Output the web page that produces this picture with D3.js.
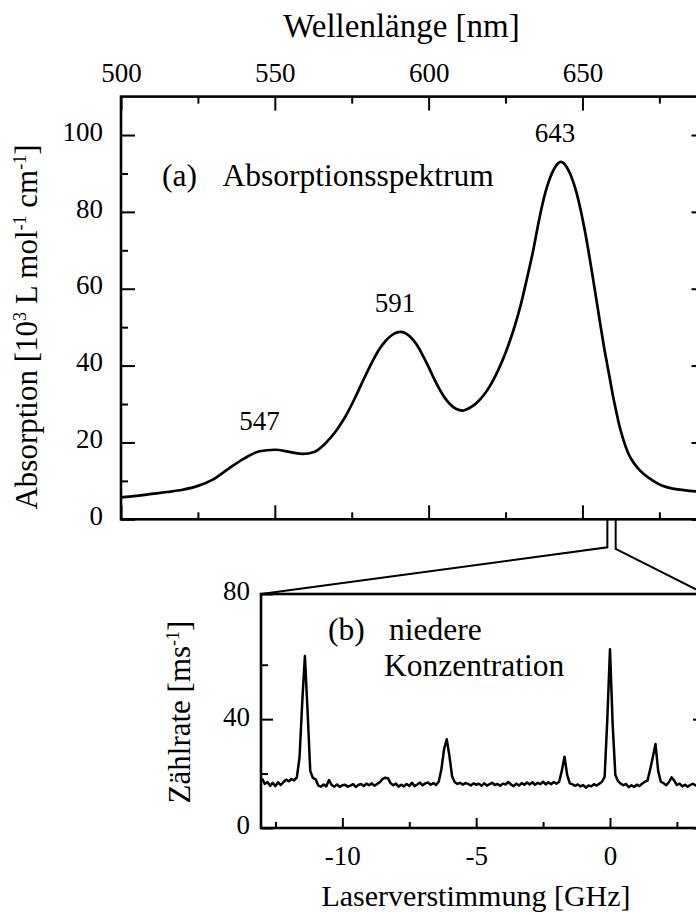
<!DOCTYPE html>
<html>
<head>
<meta charset="utf-8">
<script src="https://cdn.jsdelivr.net/npm/d3@7"></script>
<style>
  html, body { margin: 0; padding: 0; background: #fff; overflow: hidden; }
  svg { display: block; }
  text { font-family: "Liberation Serif", "Times New Roman", serif; fill: #000; }
</style>
</head>
<body>
<svg id="fig" width="696" height="913"></svg>
<script>
// ---------- (a) absorption spectrum ----------
const wavelength = [500, 505, 510, 515, 520, 525, 530, 535, 540, 545, 550, 555, 559, 563, 566, 568, 570, 572, 574, 576,
  578, 580, 582, 584, 586, 588, 590, 591, 592, 594, 596, 598, 600, 602, 604, 606, 608, 610, 611, 612,
  614, 616, 618, 620, 622, 624, 626, 628, 630, 632, 634, 636, 637, 638, 639, 640, 641, 642, 643, 644,
  645, 646, 647, 648, 649, 650, 651, 652, 653, 654, 655, 656, 657, 658, 659, 660, 661, 662, 663, 664,
  665, 666, 668, 670, 673, 676, 680, 685, 690];
const absorption = [5.7, 6.1, 6.6, 7.1, 7.7, 8.7, 10.4, 13.2, 15.8, 17.7, 18.1, 17.5, 17.0, 17.6, 19.4, 21.1, 23.1, 25.5, 28.3, 31.5,
  34.9, 38.3, 41.5, 44.3, 46.4, 47.9, 48.7, 48.8, 48.6, 47.5, 45.6, 42.8, 39.6, 36.2, 33.2, 30.8, 29.2, 28.4, 28.3, 28.5,
  29.3, 30.6, 32.4, 34.8, 37.8, 41.3, 45.5, 50.3, 56.0, 62.8, 70.0, 78.3, 82.0, 85.2, 87.8, 89.9, 91.5, 92.6, 93.0, 92.6,
  91.5, 89.9, 87.8, 85.2, 82.0, 78.3, 74.2, 69.6, 64.8, 59.8, 54.8, 49.8, 44.9, 40.5, 36.2, 31.8, 28.0, 24.4, 21.5, 19.0,
  17.0, 15.5, 13.3, 11.7, 10.0, 8.7, 7.9, 7.4, 7.1];
const peakWavelengths = [547, 591, 643];
const peakHeights = [18.1, 48.8, 93.0];
const wlMajorTicks = [500, 550, 600, 650, 700];
const wlMinorTicks = [525, 575, 625, 675];
const absMajorTicks = [0, 20, 40, 60, 80, 100];
const absMinorTicks = [10, 30, 50, 70, 90];
const wlDomain = [500, 690];
const absDomain = [0, 110];
// laser scan window marked on the wavelength axis [nm]
const scanWindow = [658.1, 660.8];

// ---------- (b) count rate vs. laser detuning ----------
const detuning = d3.range(166).map(i => +(-13 + i * 0.1).toFixed(1));
const countRate = [
  18.2, 16.2, 16.9, 15.5, 16.6, 15.4, 16.8, 15.8, 16.9, 17.8,   // -13.0 .. -12.1
  17.2, 18.0, 17.5, 18.6, 26.0, 46.0, 63.2, 43.0, 21.0, 18.4,   // -12.0 .. -11.1
  17.9, 15.6, 15.2, 16.0, 15.3, 17.6, 15.8, 15.2, 16.0, 15.1,   // -11.0 .. -10.1
  15.7, 15.9, 15.2, 15.6, 16.1, 15.1, 15.8, 16.2, 15.4, 16.3,   // -10.0 .. -9.1
  15.7, 16.4, 15.5, 16.2, 16.8, 18.0, 18.5, 18.3, 16.5, 15.7,   // -9.0 .. -8.1
  16.3, 15.2, 15.9, 15.3, 16.2, 15.5, 16.6, 15.4, 16.0, 16.7,   // -8.0 .. -7.1
  15.7, 16.4, 16.7, 15.9, 16.5, 15.8, 17.0, 21.5, 29.0, 32.6,   // -7.0 .. -6.1
  26.5, 19.0, 16.8, 16.2, 16.6, 15.9, 16.5, 16.2, 15.6, 16.4,   // -6.0 .. -5.1
  15.9, 16.3, 15.5, 16.4, 15.6, 16.1, 16.6, 15.8, 16.2, 15.5,   // -5.0 .. -4.1
  16.3, 16.0, 16.9, 16.0, 15.4, 16.3, 15.6, 16.5, 15.9, 16.7,   // -4.0 .. -3.1
  16.0, 16.8, 15.9, 16.6, 16.1, 17.0, 16.0, 16.8, 16.1, 16.9,   // -3.0 .. -2.1
  16.3, 17.0, 21.0, 26.2, 19.5, 16.4, 16.0, 15.5, 16.0, 15.3,   // -2.0 .. -1.1
  15.8, 14.8, 15.6, 15.3, 16.1, 15.6, 16.3, 17.0, 18.8, 40.0,   // -1.0 .. -0.1
  65.7, 38.0, 19.5, 17.2, 16.3, 15.7, 16.2, 15.0, 15.7, 15.1,   //  0.0 .. 0.9
  15.9, 15.4, 16.3, 17.0, 17.4, 21.5, 26.0, 30.9, 21.0, 17.0,   //  1.0 .. 1.9
  16.5, 15.7, 16.8, 18.6, 17.4, 15.8, 16.3, 15.3, 15.9, 15.2,   //  2.0 .. 2.9
  15.8, 16.3, 15.6, 16.1, 15.7, 16.2                            //  3.0 .. 3.5
];
const detMajorTicks = [-10, -5, 0];
const detMinorTicks = [-12.5, -7.5, -2.5, 2.5];
const rateTickValues = [0, 40, 86];
const rateTickLabels = ["0", "40", "80"];
const rateMinorTicks = [20, 60];
const detDomain = [-13.04, 3.55];
const rateDomain = [0, 86];

// ---------- drawing ----------
const svg = d3.select("#fig");
const SERIF = '"Liberation Serif", "Times New Roman", serif';
const TICK_FONT = 27, NOTE_FONT = 31.5;

// panel (a) frame
const A = { left: 121, right: 705.5, top: 96.6, bottom: 519.3 };
const xA = d3.scaleLinear().domain(wlDomain).range([A.left, A.right]);
const yA = d3.scaleLinear().domain(absDomain).range([A.bottom, A.top]);

// panel (b) frame
const B = { left: 261, right: 705, top: 594, bottom: 828 };
const xB = d3.scaleLinear().domain(detDomain).range([B.left, B.right]);
const yB = d3.scaleLinear().domain(rateDomain).range([B.bottom, B.top]);

function styleAxis(g) {
  g.attr("font-family", SERIF).attr("font-size", TICK_FONT);
  g.select(".domain").remove();
  g.selectAll(".tick line").attr("stroke", "#000").attr("stroke-width", 2);
  g.selectAll(".tick text").attr("fill", "#000");
}
const inDom = (s) => (v) => v >= s.domain()[0] && v <= s.domain()[1];
const plain = (d) => String(d);

// ---- panel (a) axes ----
const gA = svg.append("g");
gA.append("g").attr("transform", `translate(0,${A.top})`)
  .call(d3.axisTop(xA).tickValues(wlMajorTicks.filter(inDom(xA))).tickSizeInner(-14).tickSizeOuter(0).tickPadding(15).tickFormat(plain))
  .call(styleAxis);
gA.append("g").attr("transform", `translate(0,${A.top})`)
  .call(d3.axisTop(xA).tickValues(wlMinorTicks).tickSizeInner(-7).tickSizeOuter(0).tickFormat(""))
  .call(styleAxis);
gA.append("g").attr("transform", `translate(0,${A.bottom})`)
  .call(d3.axisBottom(xA).tickValues(wlMajorTicks.filter(inDom(xA))).tickSizeInner(-14).tickSizeOuter(0).tickFormat(""))
  .call(styleAxis);
gA.append("g").attr("transform", `translate(0,${A.bottom})`)
  .call(d3.axisBottom(xA).tickValues(wlMinorTicks).tickSizeInner(-7).tickSizeOuter(0).tickFormat(""))
  .call(styleAxis);
gA.append("g").attr("transform", `translate(${A.left},0)`)
  .call(d3.axisLeft(yA).tickValues(absMajorTicks).tickSizeInner(-14).tickSizeOuter(0).tickPadding(18).tickFormat(plain))
  .call(styleAxis)
  .call(g => g.selectAll(".tick text").attr("dy", "0.19em"));
gA.append("g").attr("transform", `translate(${A.left},0)`)
  .call(d3.axisLeft(yA).tickValues(absMinorTicks).tickSizeInner(-7).tickSizeOuter(0).tickFormat(""))
  .call(styleAxis);
gA.append("g").attr("transform", `translate(${A.right},0)`)
  .call(d3.axisRight(yA).tickValues(absMajorTicks).tickSizeInner(-14).tickSizeOuter(0).tickFormat(""))
  .call(styleAxis);
gA.append("g").attr("transform", `translate(${A.right},0)`)
  .call(d3.axisRight(yA).tickValues(absMinorTicks).tickSizeInner(-7).tickSizeOuter(0).tickFormat(""))
  .call(styleAxis);
gA.append("rect")
  .attr("x", A.left).attr("y", A.top).attr("width", A.right - A.left).attr("height", A.bottom - A.top)
  .attr("fill", "none").attr("stroke", "#000").attr("stroke-width", 2.6);

// absorption curve
const absData = wavelength.map((w, i) => [w, absorption[i]]);
gA.append("path")
  .datum(absData)
  .attr("fill", "none").attr("stroke", "#000").attr("stroke-width", 2.7).attr("stroke-linejoin", "round")
  .attr("d", d3.line().x(d => xA(d[0])).y(d => yA(d[1])).curve(d3.curveMonotoneX));

// peak labels
gA.selectAll("text.peak")
  .data(peakWavelengths)
  .join("text")
  .attr("class", "peak")
  .attr("x", d => xA(d) - 6)
  .attr("y", (d, i) => yA(peakHeights[i]) - 20)
  .attr("text-anchor", "middle")
  .attr("font-size", TICK_FONT)
  .text(d => d);

// panel annotation
gA.append("text").attr("x", 162).attr("y", 186).attr("font-size", NOTE_FONT).text("(a)");
gA.append("text").attr("x", 222.5).attr("y", 186).attr("font-size", NOTE_FONT).text("Absorptionsspektrum");

// axis titles
svg.append("text")
  .attr("x", 401.5).attr("y", 37)
  .attr("text-anchor", "middle").attr("font-size", 33)
  .text("Wellenlänge [nm]");

const yTitleA = svg.append("text")
  .attr("transform", "translate(37,327) rotate(-90)")
  .attr("text-anchor", "middle").attr("font-size", 31);
yTitleA.append("tspan").text("Absorption [10");
yTitleA.append("tspan").attr("font-size", 18).attr("dy", -11).text("3");
yTitleA.append("tspan").attr("dy", 11).text(" L mol");
yTitleA.append("tspan").attr("font-size", 18).attr("dy", -11).text("-1");
yTitleA.append("tspan").attr("dy", 11).text(" cm");
yTitleA.append("tspan").attr("font-size", 18).attr("dy", -11).text("-1");
yTitleA.append("tspan").attr("dy", 11).text("]");

// ---- connector from the scan window down to panel (b) ----
const bendY = [A.bottom + 28, A.bottom + 29.7];
const connectors = [
  [[xA(scanWindow[0]), A.bottom], [xA(scanWindow[0]), bendY[0]], [B.left, B.top]],
  [[xA(scanWindow[1]), A.bottom], [xA(scanWindow[1]), bendY[1]], [B.right, B.top]]
];
svg.selectAll("path.conn")
  .data(connectors)
  .join("path")
  .attr("class", "conn")
  .attr("fill", "none").attr("stroke", "#000").attr("stroke-width", 2)
  .attr("d", d3.line());

// ---- panel (b) axes ----
const gB = svg.append("g");
gB.append("g").attr("transform", `translate(0,${B.bottom})`)
  .call(d3.axisBottom(xB).tickValues(detMajorTicks).tickSizeInner(-10).tickSizeOuter(0).tickPadding(37).tickFormat(plain))
  .call(styleAxis)
  .call(g => g.selectAll(".tick text").attr("dy", "0em"));
gB.append("g").attr("transform", `translate(0,${B.bottom})`)
  .call(d3.axisBottom(xB).tickValues(detMinorTicks).tickSizeInner(-6).tickSizeOuter(0).tickFormat(""))
  .call(styleAxis);
gB.append("g").attr("transform", `translate(${B.left},0)`)
  .call(d3.axisLeft(yB).tickValues(rateTickValues).tickSizeInner(-12).tickSizeOuter(0).tickPadding(11)
    .tickFormat((d, i) => rateTickLabels[i]))
  .call(styleAxis)
  .call(g => g.selectAll(".tick text").attr("dy", "0.22em"));
gB.append("g").attr("transform", `translate(${B.left},0)`)
  .call(d3.axisLeft(yB).tickValues(rateMinorTicks).tickSizeInner(-7).tickSizeOuter(0).tickFormat(""))
  .call(styleAxis);
gB.append("g").attr("transform", `translate(${B.right},0)`)
  .call(d3.axisRight(yB).tickValues(rateTickValues.slice(0, 2)).tickSizeInner(-12).tickSizeOuter(0).tickFormat(""))
  .call(styleAxis);
gB.append("rect")
  .attr("x", B.left).attr("y", B.top).attr("width", B.right - B.left).attr("height", B.bottom - B.top)
  .attr("fill", "none").attr("stroke", "#000").attr("stroke-width", 2.6);

// count-rate trace
const rateData = detuning.map((d, i) => [d, countRate[i]]);
gB.append("path")
  .datum(rateData)
  .attr("fill", "none").attr("stroke", "#000").attr("stroke-width", 2.5).attr("stroke-linejoin", "round")
  .attr("d", d3.line().x(d => xB(d[0])).y(d => yB(d[1])));

gB.append("text").attr("x", 328).attr("y", 640).attr("font-size", NOTE_FONT).text("(b)");
gB.append("text").attr("x", 389).attr("y", 640).attr("font-size", NOTE_FONT).text("niedere");
gB.append("text").attr("x", 384).attr("y", 676).attr("font-size", NOTE_FONT).text("Konzentration");

svg.append("text")
  .attr("x", 476).attr("y", 906)
  .attr("text-anchor", "middle").attr("font-size", 30)
  .text("Laserverstimmung [GHz]");

const yTitleB = svg.append("text")
  .attr("transform", "translate(190,712) rotate(-90)")
  .attr("text-anchor", "middle").attr("font-size", 31);
yTitleB.append("tspan").text("Zählrate [ms");
yTitleB.append("tspan").attr("font-size", 18).attr("dy", -11).text("-1");
yTitleB.append("tspan").attr("dy", 11).text("]");
</script>
</body>
</html>
